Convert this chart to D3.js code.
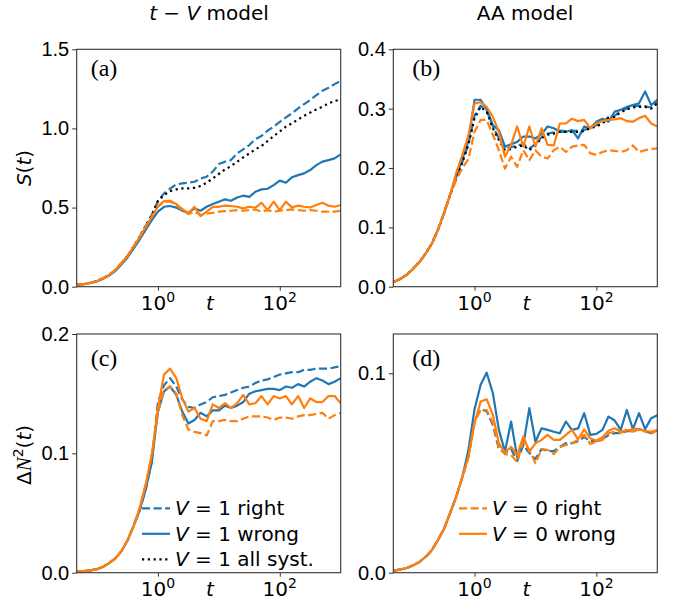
<!DOCTYPE html>
<html>
<head>
<meta charset="utf-8">
<script src="https://cdn.jsdelivr.net/npm/d3@7"></script>
<style>
  body { margin: 0; background: #fff; }
  svg { font-family: "DejaVu Sans", sans-serif; }
  text { fill: #000; }
</style>
</head>
<body>
<svg id="chart" width="675" height="601"></svg>
<script>
// time grid (log spaced, shared by all curves)
var times = [0.047, 0.063, 0.079, 0.1, 0.126, 0.158, 0.2, 0.251, 0.316, 0.398, 0.5, 0.631, 0.794,
   1, 1.26, 1.58, 2, 2.51, 3.16, 3.98, 5.01, 6.31, 7.94, 10, 12.6, 15.8, 20, 25.1, 31.6, 39.8,
   50.1, 63.1, 79.4, 100, 126, 158, 200, 251, 316, 398, 501, 631, 794, 1000];

// (a) t-V model, entropy S(t)
var aV1Right = [0.011, 0.018, 0.025, 0.036, 0.053, 0.074, 0.105, 0.148, 0.194, 0.253, 0.315, 0.385, 0.455,
   0.54, 0.59, 0.62, 0.646, 0.653, 0.657, 0.663, 0.684, 0.695, 0.727, 0.775, 0.79, 0.80, 0.842, 0.868, 0.895,
   0.933, 0.952, 0.986, 1.011, 1.042, 1.07, 1.095, 1.127, 1.154, 1.18, 1.21, 1.238, 1.257, 1.28, 1.30];
var aV1Wrong = [0.011, 0.017, 0.024, 0.034, 0.05, 0.07, 0.1, 0.14, 0.185, 0.24, 0.298, 0.36, 0.42,
   0.474, 0.505, 0.51, 0.50, 0.48, 0.467, 0.495, 0.48, 0.505, 0.522, 0.537, 0.552, 0.543, 0.564, 0.575, 0.568,
   0.60, 0.615, 0.619, 0.642, 0.67, 0.657, 0.691, 0.705, 0.716, 0.737, 0.768, 0.79, 0.80, 0.811, 0.836];
var aV1All = [0.011, 0.018, 0.025, 0.036, 0.053, 0.074, 0.105, 0.148, 0.194, 0.253, 0.315, 0.385, 0.45,
   0.543, 0.579, 0.604, 0.615, 0.621, 0.621, 0.625, 0.636, 0.657, 0.684, 0.712, 0.741, 0.762, 0.79, 0.817, 0.842,
   0.868, 0.889, 0.92, 0.952, 0.98, 1.011, 1.032, 1.057, 1.08, 1.1, 1.12, 1.137, 1.158, 1.173, 1.183];
var aV0Right = [0.011, 0.018, 0.025, 0.036, 0.053, 0.074, 0.105, 0.148, 0.194, 0.253, 0.312, 0.379, 0.442,
   0.505, 0.537, 0.537, 0.516, 0.484, 0.459, 0.474, 0.453, 0.463, 0.467, 0.474, 0.478, 0.48, 0.484, 0.48, 0.484,
   0.488, 0.474, 0.484, 0.474, 0.48, 0.484, 0.488, 0.484, 0.48, 0.484, 0.48, 0.474, 0.474, 0.474, 0.48];
var aV0Wrong = [0.011, 0.018, 0.025, 0.036, 0.053, 0.074, 0.105, 0.148, 0.194, 0.253, 0.312, 0.379, 0.442,
   0.51, 0.541, 0.543, 0.522, 0.491, 0.463, 0.505, 0.446, 0.474, 0.505, 0.505, 0.512, 0.51, 0.505, 0.495, 0.505,
   0.499, 0.53, 0.484, 0.537, 0.484, 0.537, 0.501, 0.512, 0.505, 0.501, 0.516, 0.53, 0.512, 0.505, 0.516];

// (b) AA model, entropy S(t)
var bV1Right = [0.008, 0.014, 0.021, 0.031, 0.042, 0.056, 0.073, 0.096, 0.124, 0.155, 0.182, 0.21, 0.24,
   0.288, 0.305, 0.297, 0.27, 0.25, 0.232, 0.235, 0.238, 0.24, 0.233, 0.24, 0.252, 0.258, 0.26, 0.263, 0.262,
   0.262, 0.263, 0.264, 0.268, 0.272, 0.277, 0.286, 0.288, 0.296, 0.3, 0.304, 0.305, 0.304, 0.302, 0.311];
var bV1Wrong = [0.008, 0.014, 0.021, 0.031, 0.042, 0.056, 0.073, 0.096, 0.124, 0.155, 0.185, 0.215, 0.245,
   0.315, 0.315, 0.299, 0.272, 0.264, 0.236, 0.24, 0.244, 0.253, 0.253, 0.25, 0.257, 0.27, 0.267, 0.261, 0.261,
   0.264, 0.25, 0.27, 0.267, 0.278, 0.283, 0.278, 0.295, 0.298, 0.303, 0.306, 0.309, 0.329, 0.306, 0.315];
var bV1All = [0.008, 0.014, 0.021, 0.031, 0.042, 0.056, 0.073, 0.096, 0.124, 0.155, 0.182, 0.21, 0.24,
   0.284, 0.303, 0.295, 0.267, 0.247, 0.23, 0.232, 0.236, 0.238, 0.23, 0.239, 0.25, 0.256, 0.258, 0.261, 0.261,
   0.261, 0.261, 0.262, 0.267, 0.27, 0.275, 0.284, 0.286, 0.294, 0.299, 0.302, 0.303, 0.303, 0.30, 0.309];
var bV0Right = [0.008, 0.014, 0.021, 0.031, 0.042, 0.056, 0.073, 0.096, 0.124, 0.155, 0.18, 0.2, 0.215,
   0.261, 0.281, 0.281, 0.256, 0.23, 0.199, 0.219, 0.202, 0.23, 0.213, 0.23, 0.219, 0.216, 0.23, 0.236, 0.227,
   0.236, 0.238, 0.239, 0.225, 0.222, 0.227, 0.23, 0.229, 0.227, 0.23, 0.238, 0.227, 0.23, 0.232, 0.233];
var bV0Wrong = [0.008, 0.014, 0.021, 0.031, 0.042, 0.056, 0.073, 0.096, 0.124, 0.155, 0.192, 0.222, 0.255,
   0.309, 0.311, 0.303, 0.286, 0.261, 0.219, 0.239, 0.27, 0.236, 0.27, 0.236, 0.267, 0.239, 0.238, 0.275, 0.275,
   0.283, 0.279, 0.281, 0.267, 0.275, 0.279, 0.281, 0.282, 0.284, 0.279, 0.278, 0.284, 0.288, 0.275, 0.27];

// (c) t-V model, number fluctuations
var cV1Right = [0.001, 0.0015, 0.002, 0.003, 0.005, 0.008, 0.012, 0.018, 0.027, 0.039, 0.052, 0.07, 0.093,
   0.143, 0.157, 0.163, 0.156, 0.145, 0.139, 0.138, 0.141, 0.143, 0.147, 0.148, 0.149, 0.151, 0.153, 0.155, 0.156,
   0.159, 0.161, 0.162, 0.164, 0.166, 0.167, 0.168, 0.168, 0.17, 0.17, 0.171, 0.171, 0.171, 0.172, 0.173];
var cV1Wrong = [0.001, 0.0015, 0.002, 0.003, 0.005, 0.008, 0.012, 0.018, 0.027, 0.039, 0.052, 0.07, 0.093,
   0.135, 0.152, 0.156, 0.149, 0.135, 0.125, 0.128, 0.134, 0.131, 0.136, 0.136, 0.14, 0.138, 0.14, 0.143, 0.15,
   0.152, 0.153, 0.154, 0.154, 0.153, 0.156, 0.155, 0.158, 0.156, 0.16, 0.163, 0.161, 0.158, 0.16, 0.163];
var cV0Right = [0.001, 0.0015, 0.002, 0.003, 0.005, 0.008, 0.012, 0.018, 0.027, 0.039, 0.054, 0.074, 0.099,
   0.134, 0.153, 0.156, 0.15, 0.132, 0.12, 0.118, 0.117, 0.115, 0.127, 0.127, 0.128, 0.127, 0.127, 0.129, 0.131,
   0.131, 0.131, 0.13, 0.128, 0.13, 0.13, 0.129, 0.131, 0.132, 0.132, 0.133, 0.134, 0.129, 0.132, 0.134];
var cV0Wrong = [0.001, 0.0015, 0.002, 0.003, 0.005, 0.008, 0.012, 0.018, 0.027, 0.039, 0.054, 0.074, 0.099,
   0.138, 0.166, 0.171, 0.163, 0.146, 0.135, 0.138, 0.129, 0.127, 0.141, 0.138, 0.142, 0.138, 0.142, 0.149, 0.141,
   0.142, 0.148, 0.141, 0.148, 0.146, 0.148, 0.141, 0.148, 0.138, 0.146, 0.143, 0.143, 0.148, 0.148, 0.142];

// (d) AA model, number fluctuations
var dV1Right = [0.001, 0.0017, 0.0025, 0.0038, 0.0055, 0.008, 0.0114, 0.0164, 0.022, 0.03, 0.038, 0.048, 0.058,
   0.076, 0.082, 0.081, 0.074, 0.062, 0.06, 0.062, 0.056, 0.064, 0.06, 0.057, 0.062, 0.061, 0.061, 0.063, 0.065,
   0.065, 0.066, 0.068, 0.066, 0.066, 0.067, 0.069, 0.07, 0.07, 0.071, 0.071, 0.072, 0.071, 0.07, 0.071];
var dV1Wrong = [0.001, 0.0017, 0.0025, 0.0038, 0.0055, 0.008, 0.0114, 0.0164, 0.022, 0.03, 0.038, 0.048, 0.0615,
   0.082, 0.0942, 0.1003, 0.09, 0.0716, 0.0607, 0.0758, 0.058, 0.064, 0.0825, 0.0657, 0.0724, 0.0716, 0.0707, 0.0699, 0.0758,
   0.0716, 0.0724, 0.08, 0.0691, 0.0696, 0.0716, 0.0783, 0.0763, 0.0716, 0.0816, 0.072, 0.080, 0.072, 0.0775, 0.079];
var dV0Right = [0.001, 0.0017, 0.0025, 0.0038, 0.0055, 0.008, 0.0114, 0.0164, 0.022, 0.03, 0.038, 0.048, 0.058,
   0.0758, 0.0816, 0.0816, 0.075, 0.0629, 0.0594, 0.059, 0.0557, 0.0657, 0.0616, 0.0549, 0.0619, 0.0616, 0.0595, 0.0629, 0.0641,
   0.0649, 0.0666, 0.0691, 0.0646, 0.0657, 0.0666, 0.0699, 0.0707, 0.0702, 0.0712, 0.0719, 0.0724, 0.0707, 0.0699, 0.0712];
var dV0Wrong = [0.001, 0.0017, 0.0025, 0.0038, 0.0055, 0.008, 0.0114, 0.0164, 0.022, 0.03, 0.038, 0.048, 0.058,
   0.075, 0.0858, 0.087, 0.0791, 0.0649, 0.0602, 0.0632, 0.059, 0.0682, 0.0607, 0.0649, 0.0666, 0.0691, 0.0666, 0.0666, 0.0691,
   0.0716, 0.0669, 0.0719, 0.0674, 0.0662, 0.0679, 0.0712, 0.0724, 0.0707, 0.0716, 0.0707, 0.0719, 0.0712, 0.0707, 0.0716];

var xTicks = [1, 100];
var aTicks = [0, 0.5, 1.0, 1.5];
var bTicks = [0, 0.1, 0.2, 0.3, 0.4];
var cTicks = [0, 0.1, 0.2];
var dTicks = [0, 0.1];

var blue = "#1f77b4", orange = "#ff7f0e";
var lw = 2.2;
var dashed = "8.1,3.5", dotted = "2.2,3.6";
var serif = "'Liberation Serif', 'Times New Roman', serif";

var svg = d3.select("svg#chart");
var panelW = 264;

var x = d3.scaleLog().domain([0.0464, 1000]).range([0, panelW]);

var panels = [
   { id: "a", left: 76.7, top: 49.3, h: 237.4, yMax: 1.5, ticks: aTicks,
     series: [[aV1Right, blue, dashed], [aV1Wrong, blue, null], [aV1All, "#000", dotted],
              [aV0Right, orange, dashed], [aV0Wrong, orange, null]],
     labelX: 14, labelY: 27 },
   { id: "b", left: 393.3, top: 49.3, h: 237.4, yMax: 0.4, ticks: bTicks,
     series: [[bV1Right, blue, dashed], [bV1Wrong, blue, null], [bV1All, "#000", dotted],
              [bV0Right, orange, dashed], [bV0Wrong, orange, null]],
     labelX: 19, labelY: 27 },
   { id: "c", left: 76.7, top: 334, h: 238.7, yMax: 0.2, ticks: cTicks,
     series: [[cV1Right, blue, dashed], [cV1Wrong, blue, null],
              [cV0Right, orange, dashed], [cV0Wrong, orange, null]],
     labelX: 14, labelY: 32 },
   { id: "d", left: 393.3, top: 334, h: 238.7, yMax: 0.1197, ticks: dTicks,
     series: [[dV1Right, blue, dashed], [dV1Wrong, blue, null],
              [dV0Right, orange, dashed], [dV0Wrong, orange, null]],
     labelX: 19, labelY: 32 }
];

panels.forEach(function (p) {
   var g = svg.append("g").attr("transform", `translate(${p.left}, ${p.top})`);
   var y = d3.scaleLinear().domain([0, p.yMax]).range([p.h, 0]);

   g.append("defs").append("clipPath").attr("id", "clip-" + p.id)
      .append("rect").attr("width", panelW).attr("height", p.h);

   var line = d3.line()
      .x(function (d, i) { return x(times[i]); })
      .y(function (d) { return y(d); });

   var lines = g.append("g").attr("clip-path", `url(#clip-${p.id})`);
   p.series.forEach(function (s) {
      lines.append("path")
         .datum(s[0])
         .attr("fill", "none")
         .attr("stroke", s[1])
         .attr("stroke-width", lw)
         .attr("stroke-linejoin", "round")
         .attr("stroke-dasharray", s[2])
         .attr("d", line);
   });

   // y axis
   var yAxis = g.append("g")
      .call(d3.axisLeft(y).tickValues(p.ticks).tickSize(4.5).tickPadding(3)
         .tickFormat(d3.format(".1f")));
   yAxis.select(".domain").remove();
   yAxis.selectAll("line").attr("stroke", "#333");
   yAxis.selectAll("text").attr("font-size", 20).attr("font-family", null).attr("fill", "#000");

   // x axis (log), labels as 10^n
   var xAxis = g.append("g")
      .attr("transform", `translate(0, ${p.h})`)
      .call(d3.axisBottom(x).tickValues(xTicks).tickSize(4).tickFormat(""));
   xAxis.select(".domain").remove();
   xAxis.selectAll("line").attr("stroke", "#333");
   xTicks.forEach(function (t) {
      var lab = g.append("text")
         .attr("x", x(t))
         .attr("y", p.h + 23)
         .attr("text-anchor", "middle")
         .attr("font-size", 20)
         .text("10");
      lab.append("tspan")
         .attr("dy", -8)
         .attr("font-size", 14)
         .text(String(Math.round(Math.log10(t))));
   });
   g.append("text")
      .attr("x", x(10) - 9)
      .attr("y", p.h + 23)
      .attr("text-anchor", "middle")
      .attr("font-size", 20)
      .attr("font-style", "italic")
      .text("t");

   // frame
   g.append("rect")
      .attr("width", panelW).attr("height", p.h)
      .attr("fill", "none").attr("stroke", "#333").attr("stroke-width", 1.1);

   // panel letter
   g.append("text")
      .attr("x", p.labelX).attr("y", p.labelY)
      .style("font-family", serif)
      .attr("font-size", 24)
      .text("(" + p.id + ")");
});

// column titles
var t1 = svg.append("text").attr("x", 209).attr("y", 20).attr("text-anchor", "middle").attr("font-size", 20);
t1.append("tspan").attr("font-style", "italic").text("t");
t1.append("tspan").text(" \u2212 ");
t1.append("tspan").attr("font-style", "italic").text("V");
t1.append("tspan").text(" model");
svg.append("text").attr("x", 525).attr("y", 20).attr("text-anchor", "middle").attr("font-size", 20).text("AA model");

// y labels
var yl1 = svg.append("text").attr("transform", "translate(31, 168) rotate(-90)")
   .attr("text-anchor", "middle").attr("font-size", 20);
yl1.append("tspan").attr("font-style", "italic").text("S");
yl1.append("tspan").text("(");
yl1.append("tspan").attr("font-style", "italic").text("t");
yl1.append("tspan").text(")");

var yl2 = svg.append("text").attr("transform", "translate(31, 455) rotate(-90)")
   .attr("text-anchor", "middle").attr("font-size", 20);
yl2.append("tspan").text("\u0394");
yl2.append("tspan").attr("font-style", "italic").style("font-family", serif).attr("font-size", 21).text("N");
yl2.append("tspan").attr("dy", -8).attr("font-size", 14).text("2");
yl2.append("tspan").attr("dy", 8).text("(");
yl2.append("tspan").attr("font-style", "italic").text("t");
yl2.append("tspan").text(")");

// legends
function legend(x0, y0, rows) {
   rows.forEach(function (r, i) {
      var yy = y0 + i * 25.5;
      svg.append("line")
         .attr("x1", x0).attr("x2", x0 + 28).attr("y1", yy).attr("y2", yy)
         .attr("stroke", r[1]).attr("stroke-width", lw).attr("stroke-dasharray", r[2]);
      var tx = svg.append("text").attr("x", x0 + 33).attr("y", yy + 7).attr("font-size", 20);
      tx.append("tspan").attr("font-style", "italic").text("V");
      tx.append("tspan").text(" = " + r[0]);
   });
}
legend(142, 508.3, [["1 right", blue, dashed], ["1 wrong", blue, null], ["1 all syst.", "#000", dotted]]);
legend(459, 508.3, [["0 right", orange, dashed], ["0 wrong", orange, null]]);
</script>
</body>
</html>
